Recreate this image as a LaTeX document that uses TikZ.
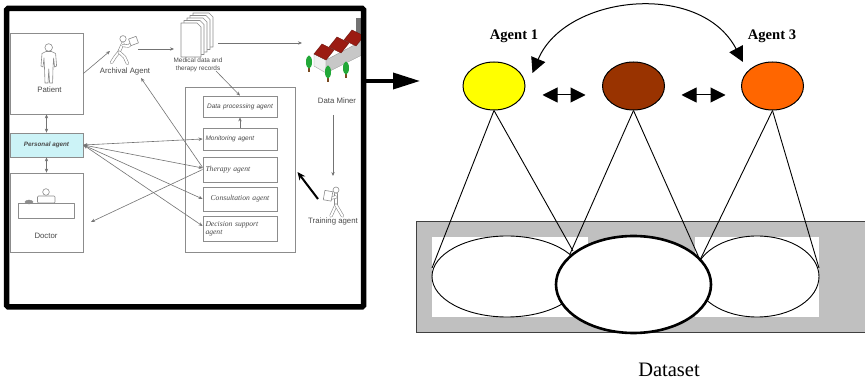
\documentclass[tikz,border=0pt]{standalone}
\usepackage{fontspec}
\setmainfont{Liberation Serif}
\setsansfont{Liberation Sans}
\usetikzlibrary{arrows.meta,shapes.geometric,calc}
\definecolor{panelline}{HTML}{8C8C8C}
\definecolor{paneltext}{HTML}{4A4A4A}
\definecolor{paleCyan}{HTML}{CCF3F7}
\definecolor{agentYellow}{HTML}{FFFF00}
\definecolor{agentBrown}{HTML}{993300}
\definecolor{agentOrange}{HTML}{FF6600}
\definecolor{datasetGray}{HTML}{C0C0C0}
\definecolor{roofRed}{HTML}{9B1B12}
\definecolor{treeGreen}{HTML}{22A838}
\definecolor{trunkBrown}{HTML}{7A4A20}
\begin{document}
\begin{tikzpicture}[x=1pt,y=-1pt,
  frame/.style={draw=panelline,line width=0.8pt,fill=white,inner sep=0pt},
  inbox/.style={draw=panelline,line width=0.8pt,fill=white,minimum width=74pt,
    inner xsep=2.5pt,inner ysep=0pt,text width=69pt,align=left,text=paneltext},
  sanslbl/.style={font=\sffamily\fontsize{7.8}{9}\selectfont,text=paneltext,inner sep=0pt,anchor=base},
  sansit/.style={font=\sffamily\itshape\fontsize{6.5}{7.5}\selectfont},
  serifit/.style={font=\itshape\fontsize{7.6}{8.4}\selectfont},
  icon/.style={draw=panelline,line width=0.6pt,fill=white,line join=round},
  limb/.style={draw=panelline,line width=0.6pt,double=white,double distance=2pt,line cap=round,line join=round},
  link/.style={draw=black!55,line width=0.6pt},
  tipend/.style={-{Stealth[length=4pt,width=3.4pt]}},
  tipboth/.style={{Stealth[length=4pt,width=3.4pt]}-{Stealth[length=4pt,width=3.4pt]}},
  agent/.style={ellipse,draw=black,line width=1pt,minimum width=62pt,minimum height=48pt,inner sep=0pt},
  agentlbl/.style={font=\bfseries\fontsize{14.6}{16}\selectfont,inner sep=0pt,anchor=base},
  region/.style={ellipse,draw=black,line width=0.9pt,fill=white,inner sep=0pt},
  spokes/.style={draw=black,line width=0.9pt}
]
\useasboundingbox (0,0) rectangle (865,379);
\fill[white] (0,0) rectangle (865,379);

% ================= left panel: healthcare multi-agent system =================
% boxes on the left
\node[frame,minimum width=73pt,minimum height=81pt] (patient) at (46.5,73.5) {};
\node[frame,fill=paleCyan,minimum width=73pt,minimum height=24pt,
      font=\sffamily\bfseries\itshape\fontsize{6.3}{7}\selectfont,text=paneltext] (pa) at (46.5,145) {Personal agent};
\node[frame,minimum width=73pt,minimum height=79pt] (doctor) at (46.5,212.5) {};
\node[sanslbl] (patientlbl) at (49.5,92.5) {Patient};
\node[sanslbl] (doctorlbl) at (46,239) {Doctor};

% patient figure
\draw[icon] (48.7,47.5) circle (3.8);
\draw[icon] (46,51.5) -- (42,53.5) -- (41,66) -- (43,67) -- (44,58) -- (44.5,68) -- (45,83) -- (48,83)
  -- (48.8,69) -- (49.6,83) -- (52.6,83) -- (53,68) -- (53.6,58) -- (54.6,67) -- (56.6,66) -- (55.6,53.5) -- (51.5,51.5) -- cycle;

% doctor at desk
\draw[icon] (46,192) circle (3.3);
\draw[icon,rounded corners=1pt] (37.5,196) rectangle (55,203);
\draw[icon] (18,203) rectangle (74,218);
\draw[draw=panelline,fill=black!45,line width=0.4pt] (29,202) ellipse (4 and 2);

% processing container and its agents
\node[frame,minimum width=110pt,minimum height=165pt] (store) at (240,169.5) {};
\node[inbox,sansit,minimum height=21pt,align=center] (dp) at (240,106.5) {Data processing agent};
\node[inbox,sansit,minimum height=22pt] (mon) at (240,139) {Monitoring agent};
\node[inbox,serifit,minimum height=25pt] (ther) at (240,169.5) {Therapy agent};
\node[inbox,serifit,minimum height=24pt,align=center] (cons) at (240,199) {Consultation agent};
\node[inbox,serifit,minimum height=25pt] (dec) at (240,228.5) {Decision support\\agent};

% archival agent (running figure with a box)
\draw[limb] (123,43) -- (119,52);
\draw[limb] (123,45.5) -- (128.5,46) -- (131.5,43.5);
\draw[limb] (119,52) -- (115,57) -- (111.5,62.5);
\draw[limb] (119,52) -- (124.5,57) -- (127.5,63.5);
\draw[icon] (123,38.8) circle (3.2);
\draw[icon,rotate around={20:(133.5,41)}] (129.5,37.5) rectangle (137.5,44.5);
\node[sanslbl] (archlbl) at (125,74) {Archival Agent};

% stacked medical records
\foreach \k in {4,3,2,1,0}{
  \draw[icon] ($(181,23)+(3*\k,-2.5*\k)$) -- ++(16,0) -- ++(4,4) -- ++(0,30) -- ++(-20,0) -- cycle;
}
\node[font=\sffamily\fontsize{6.4}{7.4}\selectfont,text=paneltext,align=center,inner sep=0pt,anchor=north] (medlbl) at (198,57.8) {Medical data and\\therapy records};

% data miner (warehouse with trees)
\fill[black!55] (356,18) rectangle (362,40);
\draw[black!35,fill=black!6,line width=0.4pt] (314,54) -- (326,60) -- (326,73) -- (314,66) -- cycle;
\draw[black!40,fill=black!22,line width=0.4pt] (326,60) -- (362,41) -- (362,55) -- (326,73) -- cycle;
\foreach \k in {0,1,2}{
  \draw[roofRed!70!black,fill=roofRed,line width=0.4pt] ($(314,54)+(15*\k,-7*\k)$) -- ++(8,-10) -- ++(12,6) -- ++(-8,10) -- cycle;
}
\foreach \tx/\ty in {309/56,328/66,346/62}{
  \fill[trunkBrown] ($(\tx,\ty)+(-0.8,10)$) rectangle ++(1.6,6);
  \fill[treeGreen] ($(\tx,\ty)+(0,6)$) ellipse (3 and 6.5);
}
\node[sanslbl] (minerlbl) at (337,104) {Data Miner};

% training agent
\draw[limb] (336,194) -- (336,205);
\draw[limb] (336,197) -- (331,198);
\draw[limb] (336,205) -- (331,216);
\draw[limb] (336,205) -- (342.5,216);
\draw[icon] (336,190) circle (3);
\draw[icon,rotate around={-10:(328,196)}] (324,191) rectangle (332,200.5);
\node[sanslbl] (trainlbl) at (333,223.5) {Training agent};

% connection points
\coordinate (archin) at (110,51);
\coordinate (archout) at (138,49);
\coordinate (docsin) at (174,49);
\coordinate (docsout) at (218,43);
\coordinate (minerin) at (302,43);
\coordinate (minerdown) at (333,115);
\coordinate (trainin) at (333,176);
\coordinate (trainarm) at (318,199);
\coordinate (storeedge) at (297.5,172);
\coordinate (recordsout) at (216,71);
\coordinate (archfoot) at (141,78);
\coordinate (doctorin) at (91,222);

% flows in the left panel
\draw[link,tipend] (patient.east) -- (archin);
\draw[link,tipend] (archout) -- (docsin);
\draw[link,tipend] (docsout) -- (minerin);
\draw[link,tipend] (recordsout) -- (dp.north);
\draw[link,tipend] (mon.north) -- (dp.south);
\draw[link,tipend] (minerdown) -- (trainin);
\draw[black,line width=2pt,-{Stealth[length=8pt,width=7pt]}] (trainarm) -- (storeedge);
\draw[link,tipboth] (patient.south) -- (pa.north);
\draw[link,tipboth] (pa.south) -- (doctor.north);
\draw[link,tipboth] (pa.east) -- (mon.west);
\draw[link,tipboth] (pa.east) -- ([yshift=1.5pt]ther.west);
\draw[link,tipboth] (pa.east) -- (cons.west);
\draw[link,tipboth] (pa.east) -- ([yshift=2.5pt]dec.west);
\draw[link,tipend] ([yshift=2pt]ther.west) -- (archfoot);
\draw[link,tipend] (ther.west) -- (doctorin);

% thick frame round the panel
\draw[black,line width=5.5pt,rounded corners=1.5pt] (6.7,8.3) rectangle (363.5,307);

% arrow from the panel to the agents
\coordinate (frameout) at (366,81);
\coordinate (toagents) at (420,81);
\draw[black,line width=3.6pt,-{Triangle[length=27pt,width=16pt]}] (frameout) -- (toagents);

% ================= right part: agents over the dataset =================
\node[agent,fill=agentYellow] (a1) at (494,86) {};
\node[agent,fill=agentBrown] (a2) at (633.5,86) {};
\node[agent,fill=agentOrange] (a3) at (772.5,86) {};
\node[agentlbl] (l1) at (514,40) {Agent 1};
\node[agentlbl] (l3) at (772,40) {Agent 3};

\coordinate (c1) at (532.5,73);
\coordinate (c3) at (743,62);
\draw[black,line width=1pt,{Triangle[length=15pt,width=15pt]}-{Triangle[length=15pt,width=15pt]}]
  (c1) .. controls (565,-5) and (700,-20) .. (c3);

\draw[black,line width=1pt,{Triangle[length=15pt,width=15pt]}-{Triangle[length=15pt,width=15pt]},
  shorten <=17pt,shorten >=16.5pt] ([yshift=-9pt]a1.east) -- ([yshift=-9pt]a2.west);
\draw[black,line width=1pt,{Triangle[length=15pt,width=15pt]}-{Triangle[length=15pt,width=15pt]},
  shorten <=16.5pt,shorten >=15.5pt] ([yshift=-9pt]a2.east) -- ([yshift=-9pt]a3.west);

% dataset strip with partitions
\node[draw=black!75,fill=datasetGray,line width=0.9pt,minimum width=458pt,minimum height=111pt,inner sep=0pt] (dataset) at (645,276.5) {};
\node[fill=white,minimum width=156pt,minimum height=80pt,inner sep=0pt] (w1) at (510,277) {};
\node[fill=white,minimum width=124pt,minimum height=80pt,inner sep=0pt] (w2) at (757,277) {};
\node[region,minimum width=150pt,minimum height=81pt] (e1) at (507,276.5) {};
\node[region,minimum width=124pt,minimum height=81pt] (e3) at (757,276.5) {};
\node[region,line width=2.6pt,minimum width=155pt,minimum height=97pt] (e2) at (633.5,284.5) {};
\node[font=\fontsize{20.5}{24}\selectfont,inner sep=0pt,anchor=base] (dslbl) at (669,376) {Dataset};

% each agent sees two partitions
\coordinate (p1) at (432,268);
\coordinate (p12a) at (573,251);
\coordinate (p12b) at (570,254);
\coordinate (p23) at (700,260);
\coordinate (p3) at (819,268);
\draw[spokes] (a1.south) -- (p1);
\draw[spokes] (a1.south) -- (p12a);
\draw[spokes] (a2.south) -- (p12b);
\draw[spokes] (a2.south) -- (p23);
\draw[spokes] (a3.south) -- (p23);
\draw[spokes] (a3.south) -- (p3);
\end{tikzpicture}
\end{document}
